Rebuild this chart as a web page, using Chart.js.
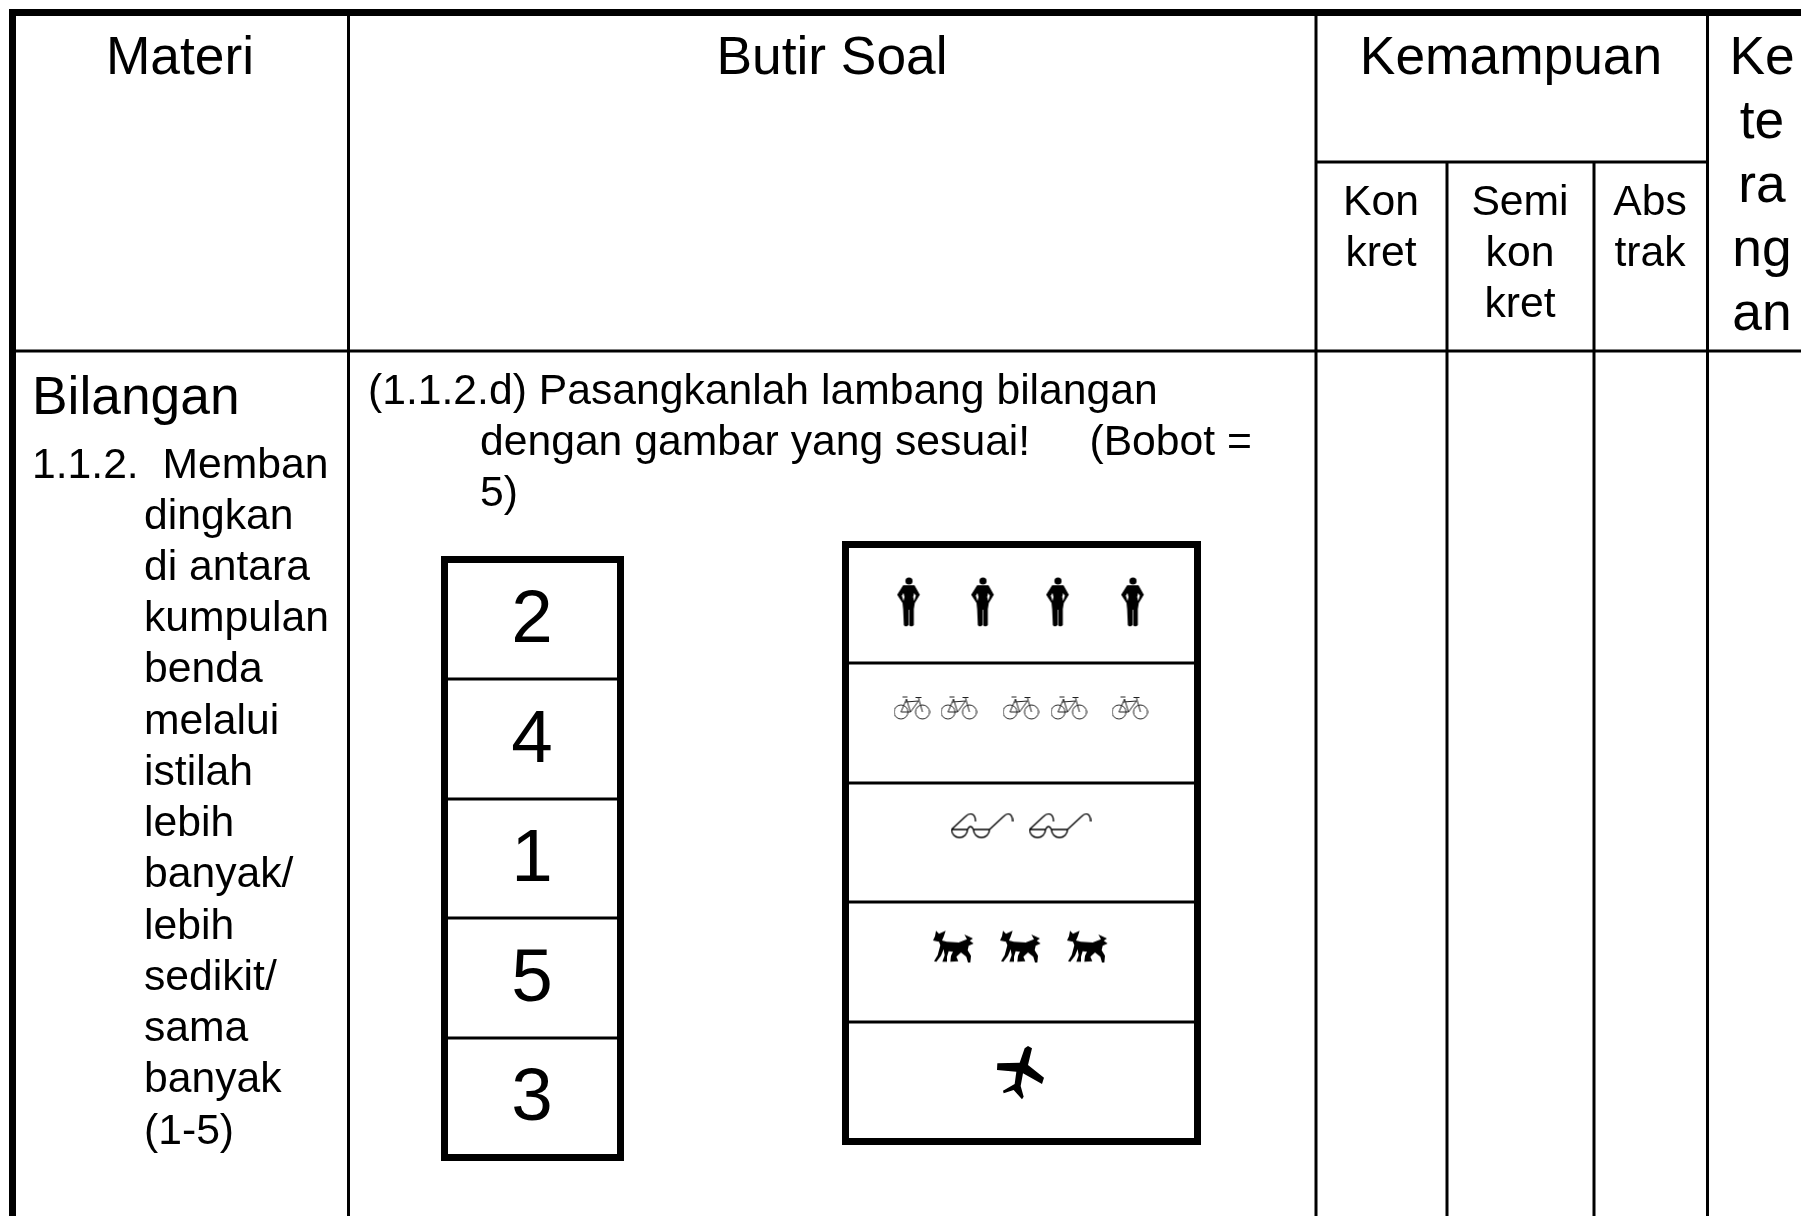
<!DOCTYPE html>
<html>
<head>
<meta charset="utf-8">
<script src="https://cdn.jsdelivr.net/npm/chart.js@4"></script>
<style>
html, body { margin: 0; padding: 0; background: #fff; overflow: hidden; }
canvas { display: block; }
</style>
</head>
<body>
<canvas id="chart1" width="1801" height="1216"></canvas>
<script>
// isi tabel
const kolomJudul = ['Materi', 'Butir Soal', 'Kemampuan'];
const kolomKeterangan = ['Ke', 'te', 'ra', 'ng', 'an'];
const subKonkret = ['Kon', 'kret'];
const subSemi = ['Semi', 'kon', 'kret'];
const subAbstrak = ['Abs', 'trak'];
const materiJudul = 'Bilangan';
const materiNomor = '1.1.2.  Memban';
const materiIsi = ['dingkan', 'di antara', 'kumpulan', 'benda', 'melalui', 'istilah', 'lebih', 'banyak/', 'lebih', 'sedikit/', 'sama', 'banyak', '(1-5)'];
const soalBaris = ['(1.1.2.d) Pasangkanlah lambang bilangan', 'dengan gambar yang sesuai!     (Bobot =', '5)'];
const angka = [2, 4, 1, 5, 3];
const jumlahGambar = [4, 5, 2, 3, 1]; // orang, sepeda, kacamata, anjing, pesawat

// posisi tabel, sumbu dipakai 1:1 dengan ukuran gambar
const L = 1801, T = 1216;
const garisX = [348.5, 1316, 1447, 1594, 1707.5];
const garisY = [162, 351];
const kotakAngka = { x1: 444.5, x2: 620.5, y1: 559.5, y2: 1157.5, baris: [679, 799, 918, 1038] };
const kotakGambar = { x1: 845.5, x2: 1197.5, y1: 544.5, y2: 1141.5, baris: [663, 783, 902, 1022] };
const gambarX = [[909, 983, 1058, 1133], [912, 959, 1021, 1069, 1130], [982, 1060], [954, 1021, 1088], [1021]];
const gambarY = [602, 708, 826, 947, 1073];
const FONT_BESAR = 53.33, FONT_KECIL = 42.67, FONT_ANGKA = 74.67;

function garis(pts, w) {
    return {
        type: 'scatter', showLine: true, data: pts.map(p => ({ x: p[0], y: p[1] })),
        borderColor: '#000', borderWidth: w, pointRadius: 0, borderCapStyle: 'butt', borderJoinStyle: 'miter'
    };
}
function kotak(k) {
    let xt = (k.x1 + k.x2) / 2;
    let out = [garis([[xt, k.y1], [k.x2, k.y1], [k.x2, k.y2], [k.x1, k.y2], [k.x1, k.y1], [xt, k.y1]], 7)];
    k.baris.forEach(y => out.push(garis([[k.x1, y], [k.x2, y]], 3)));
    return out;
}

// ikon digambar di canvas kecil lalu dipakai sebagai pointStyle
function ikon(w, h, fn) {
    let c = document.createElement('canvas');
    c.width = w; c.height = h;
    let g = c.getContext('2d');
    g.fillStyle = '#000'; g.strokeStyle = '#000'; g.lineJoin = 'round';
    fn(g);
    return c;
}
function poli(g, pts, ox, oy) {
    g.beginPath();
    pts.forEach((p, i) => {
        let x = (p[0] - ox) / 3, y = (p[1] - oy) / 3;
        if (i == 0) g.moveTo(x, y); else g.lineTo(x, y);
    });
    g.closePath();
    g.fill();
}
const ikonOrang = ikon(25, 52, g => {
    g.beginPath(); g.arc(12.5, 5, 3.6, 0, Math.PI * 2); g.fill();
    poli(g, [[190, 137], [224, 137], [240, 165], [225, 190], [222, 208], [222, 256], [218, 260], [211, 260], [208, 256], [208, 210],
        [206, 210], [206, 256], [202, 260], [195, 260], [192, 256], [190, 208], [188, 190], [172, 165]], 170, 109);
    g.fillStyle = '#fff';
    poli(g, [[191, 160], [194, 172], [191, 184], [186, 168]], 170, 109);
    poli(g, [[223, 160], [220, 172], [223, 184], [228, 168]], 170, 109);
});
const ikonSepeda = ikon(37, 24, g => {
    g.strokeStyle = '#222'; g.lineWidth = 1;
    g.beginPath(); g.arc(7.5, 16, 7, 0, Math.PI * 2); g.stroke();
    g.beginPath(); g.arc(29, 16, 7, 0, Math.PI * 2); g.stroke();
    g.beginPath();
    g.moveTo(7.5, 16); g.lineTo(13, 3); g.moveTo(9, 1); g.lineTo(14, 1); g.moveTo(13, 3); g.lineTo(17, 16);
    g.moveTo(7.5, 16); g.lineTo(17, 16); g.moveTo(17, 16); g.lineTo(25, 5); g.moveTo(12, 6); g.lineTo(25, 5);
    g.moveTo(25, 2); g.lineTo(29, 16); g.moveTo(22, 1.5); g.lineTo(28, 1.5);
    g.stroke();
});
const ikonKacamata = ikon(63, 27, g => {
    g.lineWidth = 1.4;
    g.translate(1, 1);
    g.beginPath();
    g.moveTo(0, 16); g.lineTo(16, 16); g.moveTo(22, 16); g.lineTo(38, 16);
    g.moveTo(0, 16); g.arc(8, 16, 8, Math.PI, 0, true);
    g.moveTo(22, 16); g.arc(30, 16, 8, Math.PI, 0, true);
    g.moveTo(16, 16); g.quadraticCurveTo(19, 10, 22, 16);
    g.moveTo(0, 16); g.lineTo(14, 3); g.bezierCurveTo(18, -1, 24, -1, 24, 8);
    g.moveTo(38, 16); g.lineTo(52, 3); g.bezierCurveTo(56, -1, 61, -1, 61, 8);
    g.stroke();
});
const ikonAnjing = ikon(42, 35, g => {
    poli(g, [[17, 17], [26, 26], [46, 17], [40, 35], [35, 46], [50, 50], [85, 52], [110, 42], [102, 28], [128, 40], [118, 47], [130, 55], [115, 62], [112, 75],
        [122, 92], [120, 112], [113, 112], [108, 95], [92, 82], [78, 95], [84, 108], [60, 110], [62, 92], [68, 80], [55, 78], [50, 95], [50, 110], [36, 110],
        [43, 90], [40, 72], [32, 92], [18, 110], [11, 108], [22, 90], [30, 60], [26, 50], [8, 46], [14, 33]], 8, 13);
});
const ikonPesawat = ikon(50, 56, g => {
    poli(g, [[555, 805], [565, 798], [577, 805], [565, 855], [613, 893], [607, 912], [550, 880], [543, 918], [552, 950], [547, 958], [522, 930],
        [492, 940], [490, 932], [525, 912], [530, 875], [472, 870], [473, 850], [540, 848]], 469, 795);
});
const ikonList = [ikonOrang, ikonSepeda, ikonKacamata, ikonAnjing, ikonPesawat];

// dataset garis tabel
let datasets = [
    garis([[9, 12.5], [L, 12.5]], 7),
    garis([[12.5, 9], [12.5, T]], 7),
    garis([[garisX[0], 16], [garisX[0], T]], 3),
    garis([[garisX[1], 16], [garisX[1], T]], 3),
    garis([[garisX[4], 16], [garisX[4], T]], 3),
    garis([[garisX[2], garisY[0]], [garisX[2], T]], 3),
    garis([[garisX[3], garisY[0]], [garisX[3], T]], 3),
    garis([[garisX[1], garisY[0]], [garisX[4], garisY[0]]], 3),
    garis([[16, garisY[1]], [L, garisY[1]]], 3)
].concat(kotak(kotakAngka), kotak(kotakGambar));

// titik gambar, satu dataset per baris, banyaknya dari jumlahGambar
jumlahGambar.forEach((n, i) => {
    datasets.push({
        type: 'scatter',
        data: gambarX[i].slice(0, n).map(x => ({ x: x, y: gambarY[i] })),
        pointStyle: ikonList[i],
        pointRadius: 10
    });
});

// semua teks lewat skala chart
let teks = [];
function tulis(str, x, y, size, align) { teks.push({ str: String(str), x, y, size, align: align || 'left' }); }
tulis(kolomJudul[0], 180, 74, FONT_BESAR, 'center');
tulis(kolomJudul[1], 832, 74, FONT_BESAR, 'center');
tulis(kolomJudul[2], 1511, 74, FONT_BESAR, 'center');
kolomKeterangan.forEach((s, i) => tulis(s, 1762, 74 + i * 64, FONT_BESAR, 'center'));
subKonkret.forEach((s, i) => tulis(s, 1381, 215 + i * 51, FONT_KECIL, 'center'));
subSemi.forEach((s, i) => tulis(s, 1520, 215 + i * 51, FONT_KECIL, 'center'));
subAbstrak.forEach((s, i) => tulis(s, 1650, 215 + i * 51, FONT_KECIL, 'center'));
tulis(materiJudul, 32, 414, FONT_BESAR);
tulis(materiNomor, 32, 478, FONT_KECIL);
materiIsi.forEach((s, i) => tulis(s, 144, 528.7 + i * 51.25, FONT_KECIL));
tulis(soalBaris[0], 368, 404, FONT_KECIL);
tulis(soalBaris[1], 480, 455, FONT_KECIL);
tulis(soalBaris[2], 480, 506, FONT_KECIL);
angka.forEach((s, i) => tulis(s, 532, 642 + i * 119.5, FONT_ANGKA, 'center'));

const pluginTeks = {
    id: 'pluginTeks',
    afterDatasetsDraw(chart) {
        let ctx = chart.ctx;
        ctx.save();
        ctx.fillStyle = '#000';
        ctx.textBaseline = 'alphabetic';
        teks.forEach(t => {
            ctx.font = t.size + 'px "Liberation Sans", Arial, sans-serif';
            ctx.textAlign = t.align;
            ctx.fillText(t.str, chart.scales.x.getPixelForValue(t.x), chart.scales.y.getPixelForValue(t.y));
        });
        ctx.restore();
    }
};

new Chart(document.getElementById('chart1'), {
    type: 'scatter',
    data: { datasets: datasets },
    options: {
        responsive: false,
        animation: false,
        layout: { padding: 0, autoPadding: false },
        plugins: { legend: { display: false }, title: { display: false }, tooltip: { enabled: false } },
        scales: {
            x: { type: 'linear', display: false, min: 0, max: L },
            y: { type: 'linear', display: false, min: 0, max: T, reverse: true }
        }
    },
    plugins: [pluginTeks]
});
</script>
</body>
</html>
